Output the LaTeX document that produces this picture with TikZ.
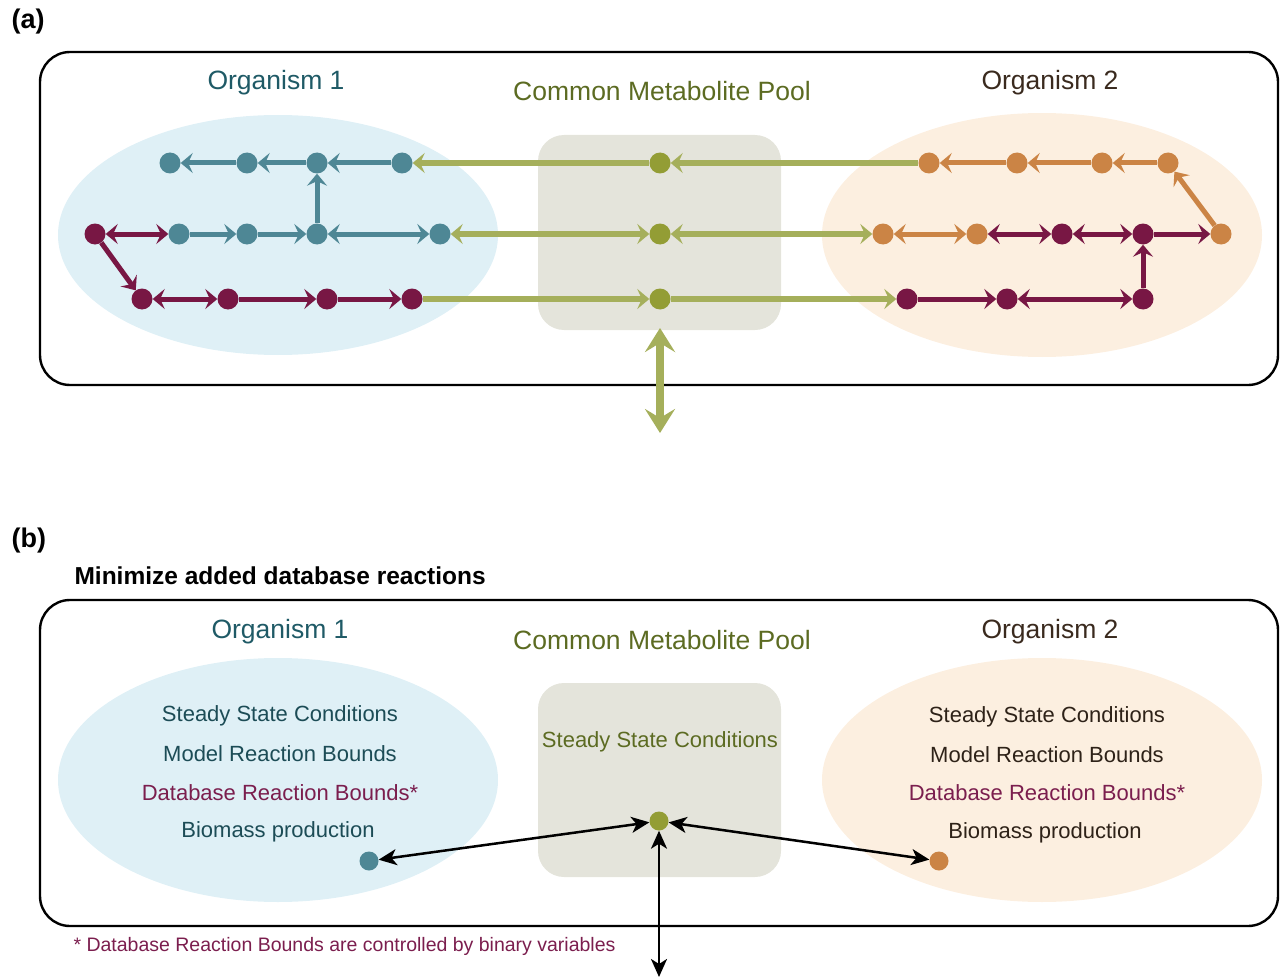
\documentclass[tikz,border=0pt]{standalone}
\usepackage{fontspec}
\setmainfont{Liberation Sans}
\usetikzlibrary{arrows.meta}
\definecolor{cteal}{HTML}{4E8795}
\definecolor{cmaroon}{HTML}{781744}
\definecolor{corange}{HTML}{CB8445}
\definecolor{colive}{HTML}{939D35}
\definecolor{cgreen}{HTML}{A5AF5B}
\definecolor{bluefill}{HTML}{DFF0F6}
\definecolor{orangefill}{HTML}{FCEFE0}
\definecolor{poolfill}{HTML}{E4E4DB}
\definecolor{tteal}{HTML}{1F5A66}
\definecolor{tolive}{HTML}{5C6B22}
\definecolor{tbrown}{HTML}{3A2A1E}
\definecolor{tdb}{HTML}{7B1E4E}
\definecolor{tteal2}{HTML}{1C4C56}
\definecolor{tbrown2}{HTML}{2E2218}
\tikzset{
  chev/.tip={Stealth[length=12pt,width=20pt,inset=4.5pt]},
  bigchev/.tip={Stealth[length=24pt,width=30pt,inset=9pt]},
  blk/.tip={Stealth[length=18pt,width=16pt,inset=5pt]},
}
\begin{document}
\begin{tikzpicture}[x=1pt,y=-1pt,
  dot/.style={circle,inner sep=0pt,minimum size=21pt,fill=#1},
  sdot/.style={circle,inner sep=0pt,minimum size=19pt,fill=#1},
  tl/.style={line width=5pt,draw=cteal},
  ml/.style={line width=5pt,draw=cmaroon},
  ol/.style={line width=5pt,draw=corange},
  gl/.style={line width=6pt,draw=cgreen},
  bl/.style={line width=2.5pt,draw=black},
  box/.style={line width=2.4pt,draw=black,rounded corners=30pt},
  pool/.style={fill=poolfill,rounded corners=26pt},
  ttl/.style={anchor=base,font=\fontsize{26.5}{30}\selectfont},
  body/.style={anchor=base,font=\fontsize{22}{26}\selectfont},
  lbl/.style={anchor=base west,font=\bfseries\fontsize{27}{30}\selectfont},
]
\useasboundingbox (0,0) rectangle (1283,979);
% ---------------- panel (a) ----------------
\node[lbl] (la) at (8,29) {(a)};
\draw[box] (40,52) rectangle (1278,385);
\fill[bluefill] (278,235) ellipse [x radius=220pt, y radius=120pt];
\fill[orangefill] (1042,235) ellipse [x radius=220pt, y radius=122pt];
\fill[pool] (538,135) rectangle (781,330);
\node[ttl,text=tteal] (o1a) at (276,90) {Organism 1};
\node[ttl,text=tolive] (cpa) at (662,101) {Common Metabolite Pool};
\node[ttl,text=tbrown] (o2a) at (1050,90) {Organism 2};
% left organism dots
\node[dot=cteal] (a1) at (170,163) {};
\node[dot=cteal] (a2) at (247,163) {};
\node[dot=cteal] (a3) at (317,163) {};
\node[dot=cteal] (a4) at (402,163) {};
\node[dot=cmaroon] (mL) at (95,234) {};
\node[dot=cteal] (b1) at (179,234) {};
\node[dot=cteal] (b2) at (247,234) {};
\node[dot=cteal] (b3) at (317,234) {};
\node[dot=cteal] (b4) at (440,234) {};
\node[dot=cmaroon] (c1) at (142,299) {};
\node[dot=cmaroon] (c2) at (228,299) {};
\node[dot=cmaroon] (c3) at (327,299) {};
\node[dot=cmaroon] (c4) at (412,299) {};
% pool dots
\node[dot=colive] (p1) at (660,163) {};
\node[dot=colive] (p2) at (660,234) {};
\node[dot=colive] (p3) at (660,299) {};
% right organism dots
\node[dot=corange] (d1) at (929,163) {};
\node[dot=corange] (d2) at (1017,163) {};
\node[dot=corange] (d3) at (1102,163) {};
\node[dot=corange] (d4) at (1168,163) {};
\node[dot=corange] (e1) at (883,234) {};
\node[dot=corange] (e2) at (977,234) {};
\node[dot=cmaroon] (e3) at (1062,234) {};
\node[dot=cmaroon] (e4) at (1143,234) {};
\node[dot=corange] (e5) at (1221,234) {};
\node[dot=cmaroon] (f1) at (907,299) {};
\node[dot=cmaroon] (f2) at (1007,299) {};
\node[dot=cmaroon] (f3) at (1143,299) {};
% left connectors
\draw[tl,-chev] (a2) -- (a1);
\draw[tl,-chev] (a3) -- (a2);
\draw[tl,-chev] (a4) -- (a3);
\draw[tl,-chev] (b3) -- (a3);
\draw[ml,chev-chev] (mL) -- (b1);
\draw[tl,-chev] (b1) -- (b2);
\draw[tl,-chev] (b2) -- (b3);
\draw[tl,chev-chev] (b3) -- (b4);
\draw[ml,-chev] (mL) -- (c1);
\draw[ml,chev-chev] (c1) -- (c2);
\draw[ml,-chev] (c2) -- (c3);
\draw[ml,-chev] (c3) -- (c4);
% green exchange
\draw[gl,-chev] (d1) -- (p1);
\draw[gl,-chev] (p1) -- (a4);
\draw[gl,chev-chev] (b4) -- (p2);
\draw[gl,chev-chev] (p2) -- (e1);
\draw[gl,-chev] (c4) -- (p3);
\draw[gl,-chev] (p3) -- (f1);
% right connectors
\draw[ol,-chev] (d2) -- (d1);
\draw[ol,-chev] (d3) -- (d2);
\draw[ol,-chev] (d4) -- (d3);
\draw[ol,-chev] (e5) -- (d4);
\draw[ol,chev-chev] (e1) -- (e2);
\draw[ml,chev-chev] (e2) -- (e3);
\draw[ml,chev-chev] (e3) -- (e4);
\draw[ml,-chev] (e4) -- (e5);
\draw[ml,-chev] (f1) -- (f2);
\draw[ml,chev-chev] (f2) -- (f3);
\draw[ml,-chev] (f3) -- (e4);
% exchange with environment
\coordinate (vt) at (660,328);
\coordinate (vb) at (660,433);
\draw[line width=7.5pt,draw=cgreen,bigchev-bigchev] (vt) -- (vb);
% ---------------- panel (b) ----------------
\node[lbl] (lb) at (8,547) {(b)};
\node[anchor=base west,font=\bfseries\fontsize{24.5}{28}\selectfont] (mn) at (71,584) {Minimize added database reactions};
\draw[box] (40,600) rectangle (1278,926);
\fill[bluefill] (278,780) ellipse [x radius=220pt, y radius=122pt];
\fill[orangefill] (1042,780) ellipse [x radius=220pt, y radius=122pt];
\fill[pool] (538,683) rectangle (781,877);
\node[ttl,text=tteal] (o1b) at (280,638) {Organism 1};
\node[ttl,text=tolive] (cpb) at (662,649) {Common Metabolite Pool};
\node[ttl,text=tbrown] (o2b) at (1050,638) {Organism 2};
\node[body,text=tteal2] (l1) at (280,721) {Steady State Conditions};
\node[body,text=tteal2] (l2) at (280,761) {Model Reaction Bounds};
\node[body,text=tdb] (l3) at (280,800) {Database Reaction Bounds*};
\node[body,text=tteal2] (l4) at (278,837) {Biomass production};
\node[body,text=tolive] (m1) at (660,747) {Steady State Conditions};
\node[body,text=tbrown2] (r1) at (1047,722) {Steady State Conditions};
\node[body,text=tbrown2] (r2) at (1047,762) {Model Reaction Bounds};
\node[body,text=tdb] (r3) at (1047,800) {Database Reaction Bounds*};
\node[body,text=tbrown2] (r4) at (1045,838) {Biomass production};
\node[sdot=cteal] (tb) at (369,861) {};
\node[sdot=colive] (pb) at (659,821) {};
\node[sdot=corange] (ob) at (939,861) {};
\coordinate (envb) at (659,977);
\draw[bl,blk-blk] (tb) -- (pb);
\draw[bl,blk-blk] (pb) -- (ob);
\draw[bl,blk-blk] (pb) -- (envb);
\node[anchor=base west,text=tdb,font=\fontsize{19.5}{22}\selectfont] (fn) at (70,951) {* Database Reaction Bounds are controlled by binary variables};
\end{tikzpicture}
\end{document}
